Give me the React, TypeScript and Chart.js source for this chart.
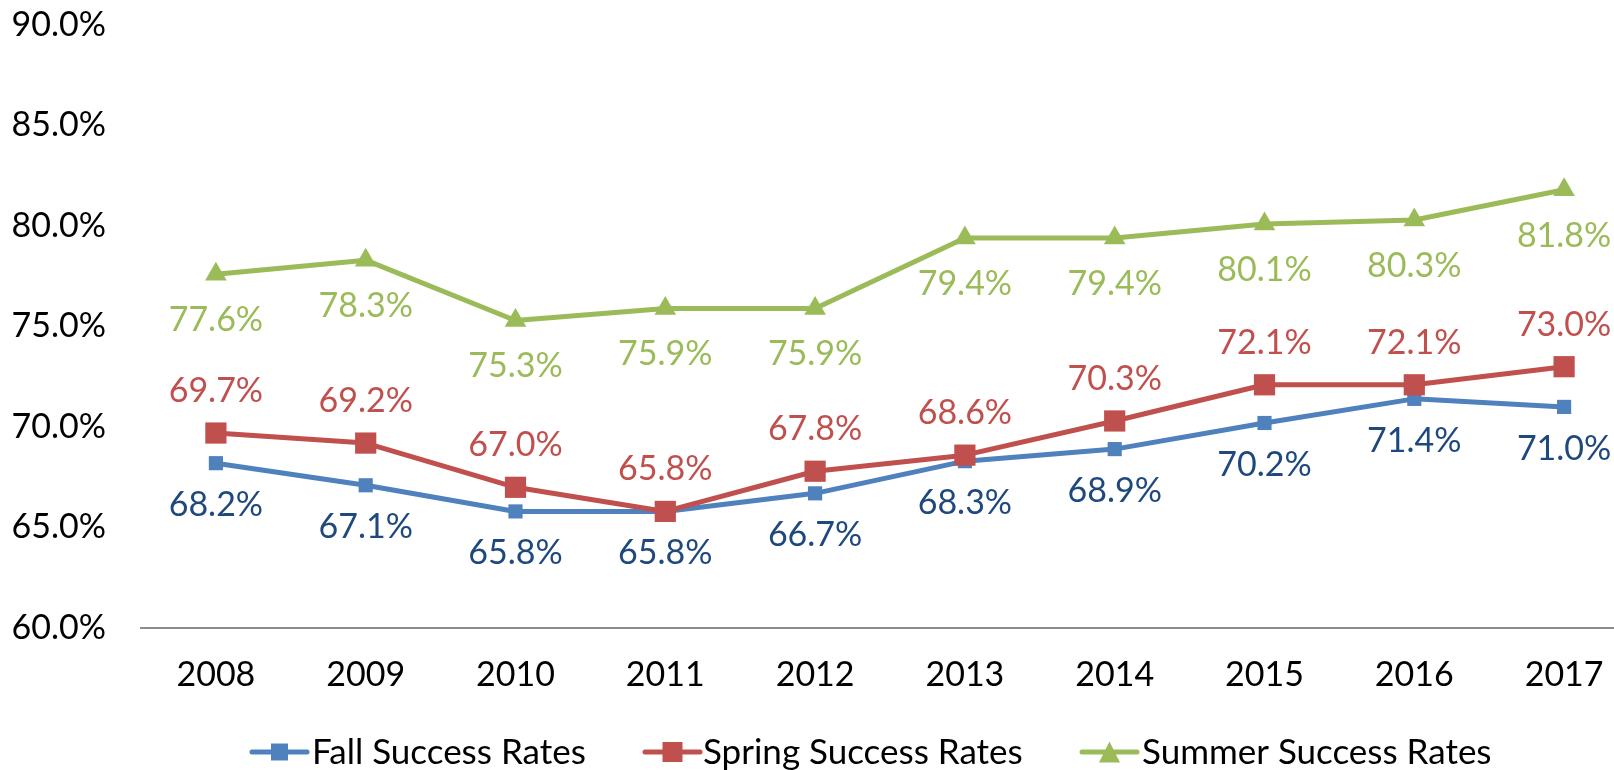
import React, { useEffect, useRef } from "react";
import { Chart, registerables } from "chart.js";

Chart.register(...registerables);

const years = ["2008", "2009", "2010", "2011", "2012", "2013", "2014", "2015", "2016", "2017"];
const fallRates = [68.2, 67.1, 65.8, 65.8, 66.7, 68.3, 68.9, 70.2, 71.4, 71.0];
const springRates = [69.7, 69.2, 67.0, 65.8, 67.8, 68.6, 70.3, 72.1, 72.1, 73.0];
const summerRates = [77.6, 78.3, 75.3, 75.9, 75.9, 79.4, 79.4, 80.1, 80.3, 81.8];
const seriesNames = ["Fall Success Rates", "Spring Success Rates", "Summer Success Rates"];
const yMin = 60;
const yMax = 90;
const yStep = 5;

// styles
const lineColors = ["#4F81BD", "#C0504D", "#9BBB59"];
const labelColors = ["#1F497D", "#C0504D", "#9BBB59"];
const labelOffsets = [42, -42, 46];
const FONT = "Lato";
const FONT_SIZE = 34;

const legendLayout = [
  { lineStart: 252, lineEnd: 307, textX: 312, marker: "rect", size: 17 },
  { lineStart: 645, lineEnd: 700, textX: 703, marker: "rect", size: 20 },
  { lineStart: 1082, lineEnd: 1137, textX: 1142, marker: "triangle", size: 21 },
];

const valueLabelPlugin = {
  id: "valueLabels",
  afterDatasetsDraw(chart: any) {
    const ctx = chart.ctx;
    ctx.save();
    ctx.font = `${FONT_SIZE}px ${FONT}`;
    ctx.textAlign = "center";
    ctx.textBaseline = "middle";
    chart.data.datasets.forEach((ds: any, di: number) => {
      const meta = chart.getDatasetMeta(di);
      meta.data.forEach((pt: any, i: number) => {
        ctx.fillStyle = labelColors[di];
        ctx.fillText(Number(ds.data[i]).toFixed(1) + "%", pt.x, pt.y + labelOffsets[di]);
      });
    });
    ctx.restore();
  },
};

const customLegendPlugin = {
  id: "customLegend",
  afterDraw(chart: any) {
    const ctx = chart.ctx;
    const y = 752;
    ctx.save();
    chart.data.datasets.forEach((ds: any, di: number) => {
      const L = legendLayout[di];
      const color = lineColors[di];
      ctx.strokeStyle = color;
      ctx.fillStyle = color;
      ctx.lineWidth = 5;
      ctx.lineCap = "round";
      ctx.beginPath();
      ctx.moveTo(L.lineStart, y);
      ctx.lineTo(L.lineEnd, y);
      ctx.stroke();
      const cx = (L.lineStart + L.lineEnd) / 2;
      if (L.marker === "rect") {
        ctx.fillRect(cx - L.size / 2, y - L.size / 2, L.size, L.size);
      } else {
        ctx.beginPath();
        ctx.moveTo(cx, y - L.size / 2);
        ctx.lineTo(cx + L.size / 2, y + L.size / 2);
        ctx.lineTo(cx - L.size / 2, y + L.size / 2);
        ctx.closePath();
        ctx.fill();
      }
      ctx.fillStyle = "#000";
      ctx.font = `35px ${FONT}`;
      ctx.textAlign = "left";
      ctx.textBaseline = "middle";
      ctx.fillText(ds.label, L.textX, y + 1);
    });
    ctx.restore();
  },
};

export default function App() {
  const ref = useRef<HTMLCanvasElement>(null);

  useEffect(() => {
    const canvas = ref.current;
    if (!canvas) return;
    const mk = (i: number, data: number[], style: string, radius: number, order: number) => ({
      label: seriesNames[i],
      data,
      borderColor: lineColors[i],
      backgroundColor: lineColors[i],
      borderWidth: 5,
      pointStyle: style,
      pointRadius: radius,
      pointBorderWidth: 0,
      pointBackgroundColor: lineColors[i],
      pointBorderColor: lineColors[i],
      tension: 0,
      borderJoinStyle: "round",
      borderCapStyle: "round",
      order,
    });
    const chart = new Chart(canvas, {
      type: "line",
      data: {
        labels: years,
        datasets: [
          mk(0, fallRates, "rect", 10, 3),
          mk(1, springRates, "rect", 15, 2),
          mk(2, summerRates, "triangle", 12.5, 1),
        ],
      },
      options: {
        animation: false,
        responsive: false,
        devicePixelRatio: 1,
        layout: { padding: { top: 25, left: 0, right: 2, bottom: 0 } },
        plugins: {
          legend: { display: false },
          tooltip: { enabled: false },
        },
        scales: {
          x: {
            offset: true,
            grid: { display: false, drawTicks: false, offset: true },
            border: { display: true, color: "#8C8C8C", width: 2 },
            ticks: { font: { family: FONT, size: FONT_SIZE }, color: "#000", padding: 27, maxRotation: 0, autoSkip: false },
            afterFit: (s: any) => {
              s.height = 142;
              s.paddingLeft = 0;
              s.paddingRight = 0;
            },
          },
          y: {
            min: yMin,
            max: yMax,
            grid: { display: false, drawTicks: false },
            border: { display: false },
            ticks: {
              stepSize: yStep,
              font: { family: FONT, size: FONT_SIZE },
              color: "#000",
              padding: 35,
              callback: (v: any) => Number(v).toFixed(1) + "%",
            },
            afterFit: (s: any) => {
              s.width = 141;
              s.paddingTop = 0;
              s.paddingBottom = 0;
            },
          },
        },
      },
      plugins: [valueLabelPlugin, customLegendPlugin],
    } as any);
    return () => chart.destroy();
  }, []);

  return (
    <div
      style={{
        position: "absolute",
        left: 0,
        top: 0,
        width: 1614,
        height: 770,
        overflow: "hidden",
        background: "#fff",
      }}
    >
      <canvas ref={ref} width={1654} height={770} style={{ display: "block", width: 1654, height: 770 }} />
    </div>
  );
}
